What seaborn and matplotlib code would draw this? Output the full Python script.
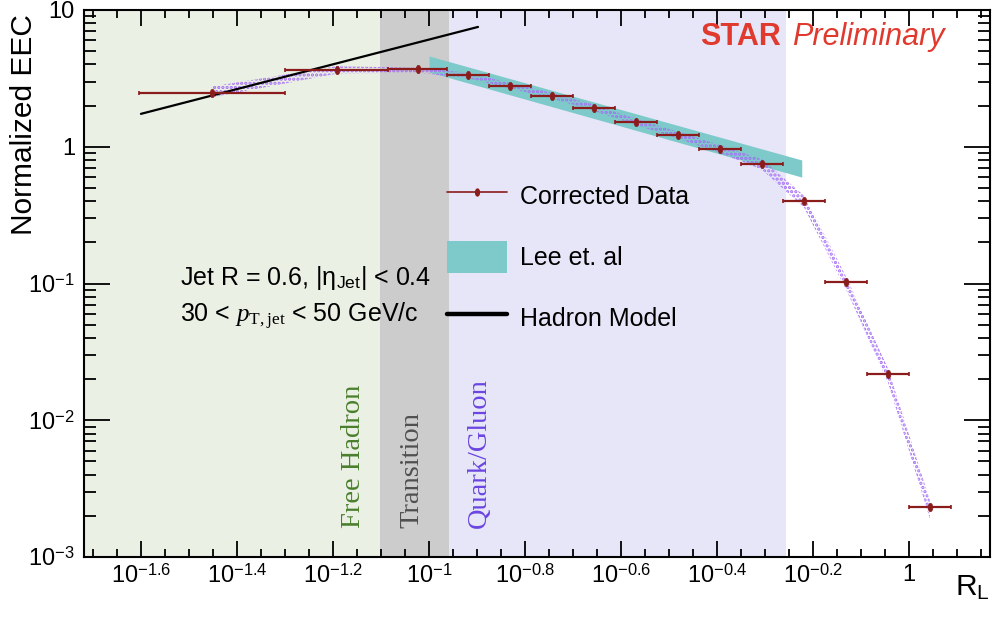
import numpy as np
import pandas as pd
import matplotlib
matplotlib.use("Agg")
import matplotlib.pyplot as plt
import seaborn as sns
from matplotlib.path import Path
from matplotlib.lines import Line2D
from matplotlib.patches import Patch
from matplotlib.ticker import FixedLocator, FixedFormatter, NullFormatter

# ---------------- data ----------------
rl_bin_edges_log10 = [-1.605, -1.30, -1.085, -0.9625, -0.875, -0.7875, -0.70, -0.6125,
                      -0.525, -0.4375, -0.35, -0.2625, -0.175, -0.0875, 0.0, 0.0875]
eec_values = [2.48, 3.65, 3.68, 3.33, 2.79, 2.36, 1.93, 1.52, 1.22, 0.97, 0.75,
              0.40, 0.103, 0.0217, 0.00232]

# purple dotted model band (lower / upper) at bin centres
band_low = [2.30, 3.42, 3.48, 3.17, 2.67, 2.25, 1.83, 1.44, 1.15, 0.90, 0.68,
            0.36, 0.091, 0.0190, 0.0019]
band_high = [2.76, 3.88, 3.78, 3.48, 2.93, 2.48, 2.03, 1.60, 1.29, 1.03, 0.81,
             0.44, 0.113, 0.0240, 0.0026]

# Lee et. al band
lee_x = [0.100, 0.598]
lee_low = [3.52, 0.60]
lee_high = [4.61, 0.80]

# Hadron model line
hadron_x = [0.0251, 0.1265]
hadron_y = [1.74, 7.52]

# regions
region_edges = [0.079, 0.11, 0.555]
region_names = ["Free Hadron", "Transition", "Quark/Gluon"]

x_tick_exps = [-1.6, -1.4, -1.2, -1.0, -0.8, -0.6, -0.4, -0.2, 0.0]
x_tick_labels = [r"$10^{-1.6}$", r"$10^{-1.4}$", r"$10^{-1.2}$", r"$10^{-1}$",
                 r"$10^{-0.8}$", r"$10^{-0.6}$", r"$10^{-0.4}$", r"$10^{-0.2}$", "1"]
y_ticks = [1e-3, 1e-2, 1e-1, 1, 10]
y_tick_labels = [r"$10^{-3}$", r"$10^{-2}$", r"$10^{-1}$", "1", "10"]

# ---------------- style ----------------
sns.set_theme(style="ticks")
plt.rcParams["font.family"] = ["Liberation Sans", "DejaVu Sans"]
plt.rcParams["mathtext.fontset"] = "custom"
plt.rcParams["mathtext.rm"] = "Liberation Sans"
plt.rcParams["mathtext.sf"] = "Liberation Sans"
plt.rcParams["mathtext.it"] = "Liberation Serif:italic"
plt.rcParams["mathtext.cal"] = "Liberation Serif"
plt.rcParams["mathtext.bf"] = "Liberation Sans:bold"
plt.rcParams["hatch.linewidth"] = 1.6
plt.rcParams["hatch.color"] = "#a56ef5"

fig = plt.figure(figsize=(9.92, 6.21), dpi=100)
fig.patch.set_facecolor("white")
ax = fig.add_axes([84 / 992, 64 / 621, 906 / 992, 547 / 621])
ax.set_facecolor("white")
ax.set_xscale("log")
ax.set_yscale("log")
xmin, xmax = 10 ** -1.719, 10 ** 0.169
ax.set_xlim(xmin, xmax)
ax.set_ylim(1e-3, 10)

# regions
ax.axvspan(xmin, region_edges[0], color="#ebf0e5", lw=0, zorder=0)
ax.axvspan(region_edges[0], region_edges[1], color="#cccccc", lw=0, zorder=0)
ax.axvspan(region_edges[1], region_edges[2], color="#e6e6f8", lw=0, zorder=0)

edges = 10 ** np.array(rl_bin_edges_log10)
centers = np.sqrt(edges[:-1] * edges[1:])
df = pd.DataFrame({"RL": centers, "EEC": eec_values,
                   "lo": edges[:-1], "hi": edges[1:]})

# Lee band
ax.fill_between(lee_x, lee_low, lee_high, color="#7ecaca", lw=0, zorder=2)

# dotted model band
ax.fill_between(df["RL"], band_low, band_high, facecolor="none",
                edgecolor="#a56ef5", hatch="....", lw=0, zorder=3)

# hadron model line
sns.lineplot(x=hadron_x, y=hadron_y, color="black", lw=1.6, ax=ax,
             legend=False, zorder=4)

# data
data_color = "#8b1c1c"
ax.errorbar(df["RL"], df["EEC"], xerr=[df["RL"] - df["lo"], df["hi"] - df["RL"]],
            fmt="none", ecolor=data_color, elinewidth=1.6, capsize=1.5,
            capthick=1.2, zorder=5)
circ = Path.unit_circle()
ellipse = Path(circ.vertices * np.array([0.55, 1.0]), circ.codes)
sns.scatterplot(data=df, x="RL", y="EEC", marker=ellipse, s=36, color=data_color,
                edgecolor=data_color, linewidth=0.5, ax=ax, zorder=6, legend=False)

# ---------------- axes ----------------
ax.xaxis.set_major_locator(FixedLocator([10 ** e for e in x_tick_exps]))
ax.xaxis.set_major_formatter(FixedFormatter(x_tick_labels))
ax.xaxis.set_minor_locator(FixedLocator(10 ** np.arange(-1.70, 0.17, 0.05)))
ax.xaxis.set_minor_formatter(NullFormatter())
ax.yaxis.set_major_locator(FixedLocator(y_ticks))
ax.yaxis.set_major_formatter(FixedFormatter(y_tick_labels))
ax.yaxis.set_minor_locator(matplotlib.ticker.LogLocator(base=10, subs=np.arange(2, 10)))
ax.yaxis.set_minor_formatter(NullFormatter())

ax.tick_params(which="both", direction="in", top=True, right=True,
               color="black", width=1.3, labelsize=17, labelcolor="black")
ax.tick_params(axis="x", which="major", length=11.5, pad=5)
ax.tick_params(axis="x", which="minor", length=5.8)
ax.tick_params(axis="y", which="major", length=18.7, pad=6.5)
ax.tick_params(axis="y", which="minor", length=8.6)
for sp in ax.spines.values():
    sp.set_linewidth(1.5)
    sp.set_color("black")
    sp.set_zorder(10)

ax.set_ylabel("Normalized EEC", fontsize=21.5, color="black", va="center")
ax.yaxis.set_label_coords(-0.066, 0.790)
ax.set_xlabel(r"R$_{\mathrm{L}}$", fontsize=21.5, color="black", ha="right", va="top")
ax.xaxis.set_label_coords(1.0, -0.03)

# ---------------- legend ----------------
handles = [
    Line2D([], [], color=data_color, lw=1.2, marker=ellipse, ms=5,
           markerfacecolor=data_color, markeredgecolor=data_color),
    Patch(facecolor="#7ecaca", edgecolor="none"),
    Line2D([], [], color="black", lw=3.2),
]
labels = ["Corrected Data", "Lee et. al", "Hadron Model"]
leg = fig.legend(handles, labels, loc="upper left",
                 bbox_to_anchor=(447 / 992, (621 - 180) / 621),
                 bbox_transform=fig.transFigure, frameon=False, fontsize=18,
                 handlelength=2.4, handleheight=1.6, labelspacing=1.16,
                 handletextpad=0.5, borderpad=0, borderaxespad=0)
for t in leg.get_texts():
    t.set_color("black")

# ---------------- texts ----------------
fig.text(180 / 992, (621 - 285) / 621, r"Jet R = 0.6, |η$_{\mathrm{Jet}}$| < 0.4",
         fontsize=18, color="black", va="baseline")
fig.text(180 / 992, (621 - 322) / 621, r"30 < $p_{\mathcal{T,jet}}$ < 50 GeV/c",
         fontsize=18, color="black", va="baseline")

fig.text(700 / 992, (621 - 45) / 621, "STAR", fontsize=22, fontweight="bold",
         color="#e03a2e", va="baseline")
fig.text(792 / 992, (621 - 45) / 621, "Preliminary", fontsize=22, style="italic",
         color="#e03a2e", va="baseline")

region_label_x = [353, 412, 479]
region_colors = ["#4a7f2c", "#505050", "#6b45e0"]
for name, xp, c in zip(region_names, region_label_x, region_colors):
    fig.text(xp / 992, (621 - 528) / 621, name, rotation=90, ha="center",
             va="bottom", fontsize=20.5, family=["Liberation Serif", "DejaVu Serif"],
             color=c)

fig.savefig("out.png", dpi=100)
